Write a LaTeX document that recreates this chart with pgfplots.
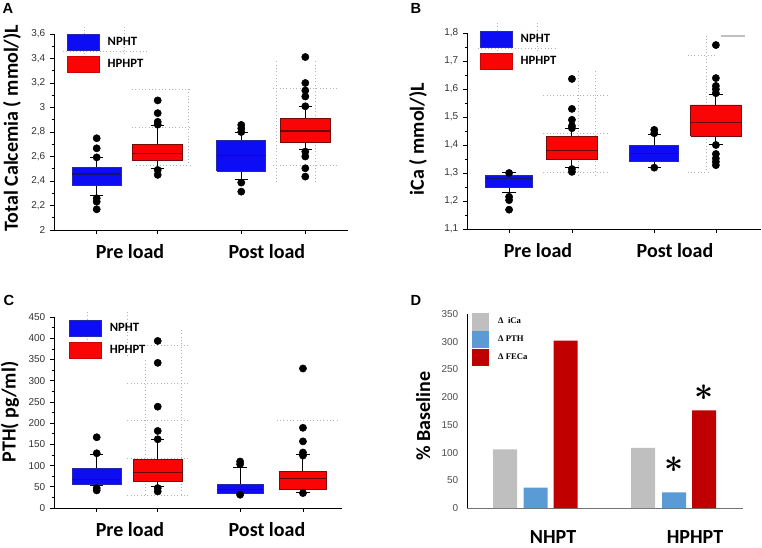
\documentclass[border=0pt]{standalone}
\usepackage{pgfplots}
\pgfplotsset{compat=1.18}
\usepackage{fontspec}
\setmainfont{Liberation Sans}
\newfontfamily\labfont{Carlito}
\newfontfamily\tickfont{Liberation Sans}
\newfontfamily\legserif{Liberation Serif}
\definecolor{boxblue}{RGB}{12,12,245}
\definecolor{boxblueedge}{RGB}{40,40,170}
\definecolor{boxbluemed}{RGB}{20,20,110}
\definecolor{boxred}{RGB}{250,5,5}
\definecolor{boxrededge}{RGB}{120,10,10}
\definecolor{boxredmed}{RGB}{110,0,0}
\definecolor{dgray}{RGB}{191,191,191}
\definecolor{dblue}{RGB}{91,155,213}
\definecolor{dred}{RGB}{192,0,0}
\pgfplotsset{
  boxax/.style={scale only axis, clip=false,
    axis x line*=bottom, axis y line*=left,
    axis line style={-,black,line width=0.6pt},
    tick align=outside, major tick length=3pt, minor tick length=1.8pt,
    every tick/.style={black,line width=0.5pt},
    tick label style={font=\tickfont\fontsize{7.5}{9}\selectfont, text=black!80},
    /pgf/number format/assume math mode=true,
    /pgf/number format/use comma,
    xmin=0, xticklabels={},
    minor y tick num=1,
    extra x tick style={major tick length=0pt,
      tick label style={font=\labfont\bfseries\fontsize{15}{18}\selectfont, text=black, anchor=center, yshift=-16.5pt}},
    legend style={anchor=north west, inner sep=0pt, outer sep=0pt, draw=none, fill=none,
      font=\labfont\bfseries\fontsize{9.5}{11}\selectfont, row sep=3.75pt, column sep=6pt,
      cells={anchor=west}, nodes={inner sep=0pt}},
  },
  ylab/.style 2 args={every axis y label/.style={at={(axis description cs:#1,#2)}, rotate=90, anchor=center,
      font=\labfont\bfseries\fontsize{15}{18}\selectfont}},
  blueimg/.style={legend image code/.code={\draw[fill=boxblue,draw=boxblueedge,line width=0.6pt] (0pt,-6pt) rectangle (24pt,6pt);}},
  redimg/.style={legend image code/.code={\draw[fill=boxred,draw=boxred!80!black,line width=0.6pt] (0pt,-6pt) rectangle (24pt,6pt);}},
  dgrayimg/.style={legend image code/.code={\fill[dgray] (0pt,-6.2pt) rectangle (12pt,6.2pt);}},
  dblueimg/.style={legend image code/.code={\fill[dblue] (0pt,-6.2pt) rectangle (12pt,6.2pt);}},
  dredimg/.style={legend image code/.code={\fill[dred] (0pt,-6.2pt) rectangle (12pt,6.2pt);}},
  dots/.style={forget plot, dotted, black!30, line width=0.5pt},
  bbox/.style={forget plot, fill=boxblue, draw=boxblueedge, line width=0.6pt},
  rbox/.style={forget plot, fill=boxred, draw=boxrededge, line width=0.6pt},
  bmed/.style={forget plot, draw=boxbluemed, line width=0.8pt},
  rmed/.style={forget plot, draw=boxredmed, line width=0.8pt},
  wh/.style={forget plot, black, line width=0.7pt},
  outl/.style={forget plot, only marks, mark=*, mark size=2.7pt, mark options={fill=black, draw=black}},
}
\begin{document}
\begin{tikzpicture}
\useasboundingbox (0,0) rectangle (571.5pt,410.25pt);
% ---------------- Panel A
\begin{axis}[boxax, at={(40.5pt,237.75pt)}, anchor=south west, width=220.5pt, height=147pt,
  xmax=4.82, ymin=2, ymax=3.6, ytick={2,2.2,...,3.61},
  xtick={0.7,1.7,3.07,4.12},
  extra x ticks={1.246,3.49}, extra x tick labels={Pre load,Post load},
  ylabel={Total Calcemia ( mmol/)L}, ylab={-0.143}{0.52},
  legend style={at={(0.044,1)}}]
\addlegendimage{blueimg}\addlegendentry{NPHT}
\addlegendimage{redimg}\addlegendentry{HPHPT}
\addplot[dots] coordinates {(0.15,3.458) (1.52,3.458)};
\addplot[dots] coordinates {(0.49,3.66) (0.49,3.44)};
\addplot[dots] coordinates {(1.15,3.66) (1.15,3.44)};
\addplot[dots] coordinates {(1.28,3.15) (2.23,3.15)};
\addplot[dots] coordinates {(1.28,2.837) (2.23,2.837)};
\addplot[dots] coordinates {(1.35,2.531) (2.23,2.531)};
\addplot[dots] coordinates {(2.2,3.15) (2.2,2.53)};
\addplot[dots] coordinates {(3.65,3.376) (3.65,2.395)};
\addplot[dots] coordinates {(4.28,3.376) (4.28,2.395)};
\addplot[dots] coordinates {(3.59,3.158) (4.64,3.158)};
\addplot[dots] coordinates {(3.59,2.531) (4.64,2.531)};
% Pre load NPHT
\addplot[wh] coordinates {(0.7,2.509) (0.7,2.594)};
\addplot[wh] coordinates {(0.59,2.594) (0.81,2.594)};
\addplot[wh] coordinates {(0.7,2.366) (0.7,2.281)};
\addplot[wh] coordinates {(0.59,2.281) (0.81,2.281)};
\addplot[bbox] coordinates {(0.3,2.366) (1.1,2.366) (1.1,2.509) (0.3,2.509) (0.3,2.366)};
\addplot[bmed] coordinates {(0.3,2.457) (1.1,2.457)};
\addplot[outl] coordinates {(0.7,2.749) (0.7,2.667) (0.7,2.593) (0.7,2.259) (0.7,2.231) (0.7,2.169)};
% Pre load HPHPT
\addplot[wh] coordinates {(1.7,2.70) (1.7,2.856)};
\addplot[wh] coordinates {(1.59,2.856) (1.81,2.856)};
\addplot[wh] coordinates {(1.7,2.567) (1.7,2.504)};
\addplot[wh] coordinates {(1.59,2.504) (1.81,2.504)};
\addplot[rbox] coordinates {(1.29,2.567) (2.11,2.567) (2.11,2.70) (1.29,2.70) (1.29,2.567)};
\addplot[rmed] coordinates {(1.29,2.627) (2.11,2.627)};
\addplot[outl] coordinates {(1.7,3.058) (1.7,2.954) (1.7,2.883) (1.7,2.86) (1.7,2.49) (1.7,2.45)};
% Post load NPHT
\addplot[wh] coordinates {(3.07,2.73) (3.07,2.80)};
\addplot[wh] coordinates {(2.96,2.80) (3.18,2.80)};
\addplot[wh] coordinates {(3.07,2.482) (3.07,2.414)};
\addplot[wh] coordinates {(2.96,2.414) (3.18,2.414)};
\addplot[bbox] coordinates {(2.67,2.482) (3.47,2.482) (3.47,2.73) (2.67,2.73) (2.67,2.482)};
\addplot[bmed] coordinates {(2.67,2.608) (3.47,2.608)};
\addplot[outl] coordinates {(3.07,2.858) (3.07,2.83) (3.07,2.80) (3.07,2.387) (3.07,2.313)};
% Post load HPHPT
\addplot[wh] coordinates {(4.12,2.912) (4.12,3.007)};
\addplot[wh] coordinates {(4.01,3.007) (4.23,3.007)};
\addplot[wh] coordinates {(4.12,2.713) (4.12,2.659)};
\addplot[wh] coordinates {(4.01,2.659) (4.23,2.659)};
\addplot[rbox] coordinates {(3.71,2.713) (4.53,2.713) (4.53,2.912) (3.71,2.912) (3.71,2.713)};
\addplot[rmed] coordinates {(3.71,2.808) (4.53,2.808)};
\addplot[outl] coordinates {(4.12,3.412) (4.12,3.2) (4.12,3.139) (4.12,3.09) (4.12,3.01) (4.12,2.64) (4.12,2.6) (4.12,2.504) (4.12,2.436)};
\end{axis}
% ---------------- Panel B
\begin{axis}[boxax, at={(350.25pt,238.5pt)}, anchor=south west, width=220.5pt, height=147pt,
  xmax=4.82, ymin=1.1, ymax=1.8, ytick={1.1,1.2,...,1.81},
  xtick={0.69,1.72,3.07,4.08},
  extra x ticks={1.164,3.41}, extra x tick labels={Pre load,Post load},
  ylabel={iCa ( mmol/)L}, ylab={-0.167}{0.459},
  legend style={at={(0.044,1.01)}}]
\addlegendimage{blueimg}\addlegendentry{NPHT}
\addlegendimage{redimg}\addlegendentry{HPHPT}
\addplot[dots] coordinates {(0.49,1.836) (0.49,1.74)};
\addplot[dots] coordinates {(1.15,1.836) (1.15,1.74)};
\addplot[dots] coordinates {(0.18,1.746) (1.49,1.746)};
\addplot[dots] coordinates {(1.82,1.663) (1.82,1.292)};
\addplot[dots] coordinates {(2.11,1.663) (2.11,1.292)};
\addplot[dots] coordinates {(1.25,1.579) (2.33,1.579)};
\addplot[dots] coordinates {(1.25,1.442) (2.33,1.442)};
\addplot[dots] coordinates {(1.25,1.302) (2.33,1.302)};
\addplot[dots] coordinates {(3.93,1.79) (3.93,1.304)};
\addplot[dots] coordinates {(3.62,1.719) (4.11,1.719)};
\addplot[dots] coordinates {(3.62,1.304) (4.0,1.304)};
\addplot[forget plot, black!25, line width=1.3pt] coordinates {(4.16,1.79) (4.56,1.79)};
% Pre load NPHT
\addplot[wh] coordinates {(0.69,1.290) (0.69,1.302)};
\addplot[wh] coordinates {(0.58,1.302) (0.80,1.302)};
\addplot[wh] coordinates {(0.69,1.248) (0.69,1.230)};
\addplot[wh] coordinates {(0.58,1.230) (0.80,1.230)};
\addplot[bbox] coordinates {(0.30,1.248) (1.08,1.248) (1.08,1.290) (0.30,1.290) (0.30,1.248)};
\addplot[bmed] coordinates {(0.30,1.28) (1.08,1.28)};
\addplot[outl] coordinates {(0.69,1.30) (0.69,1.215) (0.69,1.203) (0.69,1.169)};
% Pre load HPHPT
\addplot[wh] coordinates {(1.72,1.43) (1.72,1.46)};
\addplot[wh] coordinates {(1.61,1.46) (1.83,1.46)};
\addplot[wh] coordinates {(1.72,1.349) (1.72,1.32)};
\addplot[wh] coordinates {(1.61,1.32) (1.83,1.32)};
\addplot[rbox] coordinates {(1.295,1.349) (2.145,1.349) (2.145,1.43) (1.295,1.43) (1.295,1.349)};
\addplot[rmed] coordinates {(1.295,1.382) (2.145,1.382)};
\addplot[outl] coordinates {(1.72,1.636) (1.72,1.529) (1.72,1.49) (1.72,1.468) (1.72,1.46) (1.72,1.314) (1.72,1.304)};
% Post load NPHT
\addplot[wh] coordinates {(3.07,1.399) (3.07,1.438)};
\addplot[wh] coordinates {(2.96,1.438) (3.18,1.438)};
\addplot[wh] coordinates {(3.07,1.34) (3.07,1.319)};
\addplot[wh] coordinates {(2.96,1.319) (3.18,1.319)};
\addplot[bbox] coordinates {(2.67,1.34) (3.47,1.34) (3.47,1.399) (2.67,1.399) (2.67,1.34)};
\addplot[bmed] coordinates {(2.67,1.37) (3.47,1.37)};
\addplot[outl] coordinates {(3.07,1.454) (3.07,1.442) (3.07,1.319)};
% Post load HPHPT
\addplot[wh] coordinates {(4.08,1.543) (4.08,1.58)};
\addplot[wh] coordinates {(3.97,1.58) (4.19,1.58)};
\addplot[wh] coordinates {(4.08,1.432) (4.08,1.402)};
\addplot[wh] coordinates {(3.97,1.402) (4.19,1.402)};
\addplot[rbox] coordinates {(3.665,1.432) (4.495,1.432) (4.495,1.543) (3.665,1.543) (3.665,1.432)};
\addplot[rmed] coordinates {(3.665,1.48) (4.495,1.48)};
\addplot[outl] coordinates {(4.08,1.757) (4.08,1.639) (4.08,1.611) (4.08,1.599) (4.08,1.585) (4.08,1.40) (4.08,1.368) (4.08,1.352) (4.08,1.34) (4.08,1.328)};
\end{axis}
% ---------------- Panel C
\begin{axis}[boxax, at={(40.5pt,29.25pt)}, anchor=south west, width=216pt, height=143.25pt,
  xmax=4.72, ymin=0, ymax=450, ytick={0,50,...,450},
  xtick={0.7,1.7,3.05,4.08},
  extra x ticks={1.246,3.49}, extra x tick labels={Pre load,Post load},
  ylabel={PTH( pg/ml)}, ylab={-0.153}{0.503},
  legend style={at={(0.052,0.984)}}]
\addlegendimage{blueimg}\addlegendentry{NPHT}
\addlegendimage{redimg}\addlegendentry{HPHPT}
\addplot[dots] coordinates {(0.54,462) (0.54,356)};
\addplot[dots] coordinates {(1.2,462) (1.2,356)};
\addplot[dots] coordinates {(1.49,348) (1.49,27)};
\addplot[dots] coordinates {(2.09,419) (2.09,27)};
\addplot[dots] coordinates {(1.2,383) (2.23,383)};
\addplot[dots] coordinates {(1.2,293) (2.23,293)};
\addplot[dots] coordinates {(1.2,207) (2.23,207)};
\addplot[dots] coordinates {(1.2,117) (2.23,117)};
\addplot[dots] coordinates {(1.2,29) (2.23,29)};
\addplot[dots] coordinates {(3.65,207) (4.64,207)};
% Pre load NPHT (x=0.7)
\addplot[wh] coordinates {(0.7,93.9) (0.7,125)};
\addplot[wh] coordinates {(0.59,125) (0.81,125)};
\addplot[wh] coordinates {(0.7,54.8) (0.7,53)};
\addplot[wh] coordinates {(0.59,53) (0.81,53)};
\addplot[bbox] coordinates {(0.3,54.8) (1.1,54.8) (1.1,93.9) (0.3,93.9) (0.3,54.8)};
\addplot[bmed] coordinates {(0.3,66.5) (1.1,66.5)};
\addplot[outl] coordinates {(0.7,166.7) (0.7,129) (0.7,47) (0.7,41.5)};
% Pre load HPHPT (x=1.7)
\addplot[wh] coordinates {(1.7,113.5) (1.7,162)};
\addplot[wh] coordinates {(1.59,162) (1.81,162)};
\addplot[wh] coordinates {(1.7,62.6) (1.7,51)};
\addplot[wh] coordinates {(1.59,51) (1.81,51)};
\addplot[rbox] coordinates {(1.3,62.6) (2.1,62.6) (2.1,113.5) (1.3,113.5) (1.3,62.6)};
\addplot[rmed] coordinates {(1.3,83.7) (2.1,83.7)};
\addplot[outl] coordinates {(1.7,393.6) (1.7,342) (1.7,238.7) (1.7,181.6) (1.7,162) (1.7,47) (1.7,39)};
% Post load NPHT (x=3.05)
\addplot[wh] coordinates {(3.05,54.8) (3.05,96)};
\addplot[wh] coordinates {(2.94,96) (3.16,96)};
\addplot[wh] coordinates {(2.94,35.2) (3.16,35.2)};
\addplot[bbox] coordinates {(2.675,35.2) (3.425,35.2) (3.425,54.8) (2.675,54.8) (2.675,35.2)};
\addplot[bmed] coordinates {(2.675,44.6) (3.425,44.6)};
\addplot[outl] coordinates {(3.05,109.6) (3.05,103) (3.05,31.3)};
% Post load HPHPT (x=4.08)
\addplot[wh] coordinates {(4.08,86) (4.08,125)};
\addplot[wh] coordinates {(3.97,125) (4.19,125)};
\addplot[wh] coordinates {(4.08,44.6) (4.08,37.6)};
\addplot[wh] coordinates {(3.97,37.6) (4.19,37.6)};
\addplot[rbox] coordinates {(3.69,44.6) (4.47,44.6) (4.47,86) (3.69,86) (3.69,44.6)};
\addplot[rmed] coordinates {(3.69,68.9) (4.47,68.9)};
\addplot[outl] coordinates {(4.08,328.7) (4.08,189) (4.08,157) (4.08,130.7) (4.08,123.6) (4.08,35.2)};
\end{axis}
% ---------------- Panel D
\begin{axis}[at={(350.25pt,29.25pt)}, anchor=south west, scale only axis, clip=false,
  width=207pt, height=145.5pt, xmin=0, xmax=276, ymin=0, ymax=350,
  ytick={0,50,...,350}, xtick={86,228}, xticklabels={NHPT,HPHPT},
  axis x line*=bottom, axis y line*=left,
  x axis line style={-,black!55,line width=0.6pt}, y axis line style={-,black,line width=0.6pt},
  major tick length=0pt,
  /pgf/number format/assume math mode=true,
  yticklabel style={font=\tickfont\fontsize{7.5}{9}\selectfont, text=black!70, xshift=-3pt},
  xticklabel style={font=\labfont\bfseries\fontsize{15}{18}\selectfont, text=black, anchor=center, yshift=-21.5pt},
  ylabel={\% Baseline}, ylab={-0.159}{0.474},
  legend style={at={(0.017,1.005)}, anchor=north west, inner sep=0pt, outer sep=0pt, draw=none, fill=none,
    font=\legserif\bfseries\fontsize{6.5}{8}\selectfont, row sep=0.6pt, column sep=7.5pt,
    cells={anchor=west}, nodes={inner sep=0pt}}]
\addlegendimage{dgrayimg}
\addlegendentry{Δ~~iCa}
\addlegendimage{dblueimg}
\addlegendentry{Δ PTH}
\addlegendimage{dredimg}
\addlegendentry{Δ FECa}
\addplot[forget plot, ybar, bar width=24, bar shift=0pt, fill=dgray, draw=none] coordinates {(38,106) (176,108.6)};
\addplot[forget plot, ybar, bar width=24, bar shift=0pt, fill=dblue, draw=none] coordinates {(68.5,36.8) (207,28.4)};
\addplot[forget plot, ybar, bar width=24, bar shift=0pt, fill=dred, draw=none] coordinates {(98.7,302) (237,176)};
\node[font=\fontsize{25}{25}\selectfont\boldmath] at (axis cs:206.7,78) {$\ast$};
\node[font=\fontsize{25}{25}\selectfont\boldmath] at (axis cs:236.7,208) {$\ast$};
\end{axis}
% panel letters
\node[font=\tickfont\bfseries\fontsize{11}{13}\selectfont] at (6pt,404pt) {A};
\node[font=\tickfont\bfseries\fontsize{11}{13}\selectfont] at (312pt,404pt) {B};
\node[font=\tickfont\bfseries\fontsize{11}{13}\selectfont] at (6.75pt,185.25pt) {C};
\node[font=\tickfont\bfseries\fontsize{11}{13}\selectfont] at (312pt,185.25pt) {D};
\end{tikzpicture}
\end{document}
